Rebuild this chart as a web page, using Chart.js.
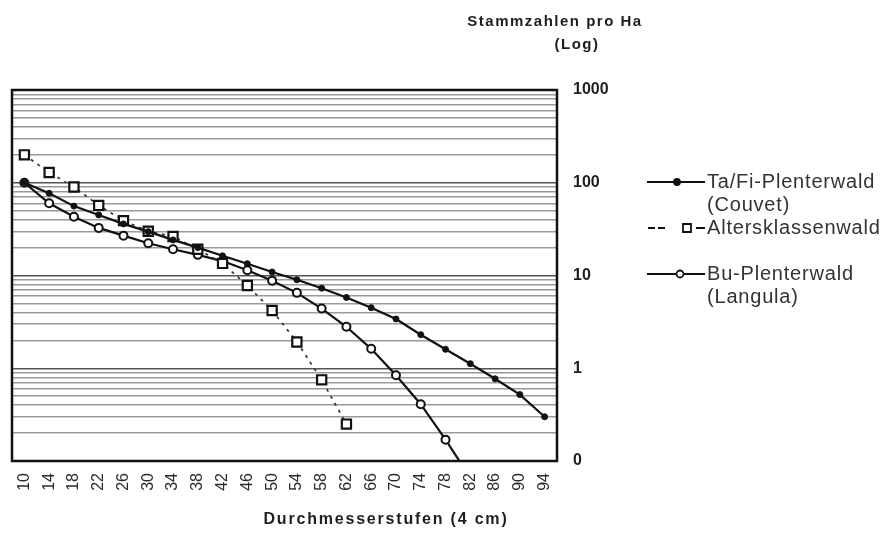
<!DOCTYPE html>
<html>
<head>
<meta charset="utf-8">
<script src="https://cdn.jsdelivr.net/npm/chart.js@4.4.0/dist/chart.umd.min.js"></script>
<style>
  html, body { margin: 0; padding: 0; background: #fff; }
  canvas { display: block; }
</style>
</head>
<body>
<canvas id="chart" width="887" height="538"></canvas>
<script>
// Durchmesserstufen (4 cm)
const categories = ['10', '14', '18', '22', '26', '30', '34', '38', '42', '46', '50',
  '54', '58', '62', '66', '70', '74', '78', '82', '86', '90', '94'];

// Stammzahlen pro Ha
const taFiValues = [100, 77, 56, 45, 36, 29.7, 24.2, 20, 16.3, 13.4, 10.9,
  9.0, 7.3, 5.8, 4.5, 3.4, 2.3, 1.6, 1.12, 0.77, 0.52, 0.30];
const altersValues = [200, 129, 90, 57, 39, 30, 26.3, 19.2, 13.5, 7.8, 4.2,
  1.92, 0.75, 0.25, null, null, null, null, null, null, null, null];
const buValues = [100, 60, 43, 32.6, 26.9, 22.3, 19.2, 16.7, 14.3, 11.4, 8.8,
  6.5, 4.4, 2.8, 1.62, 0.84, 0.41, 0.17, 0.066, null, null, null];

// y axis: log, gridline at every 1..9 of each decade, labels only on decades
const yDecades = [0.1, 1, 10, 100];
const yMultipliers = [1, 2, 3, 4, 5, 6, 7, 8, 9];
const yLabelValues = [0.1, 1, 10, 100, 1000];
const yLabelTexts = ['0', '1', '10', '100', '1000'];

const yTickValues = [];
yDecades.forEach(d => yMultipliers.forEach(m => yTickValues.push(Number((d * m).toPrecision(3)))));
yTickValues.push(1000);

const FONT = '"Liberation Sans", Arial, sans-serif';

function yLabel(v) {
  const i = yLabelValues.findIndex(x => Math.abs(x - v) < 1e-9);
  return i >= 0 ? yLabelTexts[i] : '';
}

const legendRows = [
  { lines: ['Ta/Fi-Plenterwald', '(Couvet)'], y: 182, marker: 'dot', mx: 677, dash: false },
  { lines: ['Altersklassenwald'], y: 228, marker: 'square', mx: 687, dash: true },
  { lines: ['Bu-Plenterwald', '(Langula)'], y: 274, marker: 'ring', mx: 680, dash: false },
];

function drawMarker(ctx, type, x, y) {
  ctx.save();
  ctx.strokeStyle = '#111';
  ctx.fillStyle = type === 'dot' ? '#111' : '#fff';
  ctx.lineWidth = 1.8;
  ctx.setLineDash([]);
  ctx.beginPath();
  if (type === 'square') {
    ctx.rect(x - 4, y - 4, 8, 8);
  } else {
    ctx.arc(x, y, type === 'dot' ? 3 : 3.5, 0, Math.PI * 2);
  }
  ctx.fill();
  ctx.stroke();
  ctx.restore();
}

const decorations = {
  id: 'decorations',
  afterDraw(chart) {
    const { ctx, chartArea: a } = chart;
    ctx.save();
    // frame round the plot
    ctx.strokeStyle = '#111';
    ctx.lineWidth = 2.5;
    ctx.strokeRect(a.left, a.top, a.right - a.left, a.bottom - a.top);

    // axis titles
    ctx.fillStyle = '#1e1e1e';
    ctx.textBaseline = 'middle';
    ctx.textAlign = 'center';
    ctx.font = 'bold 15px ' + FONT;
    ctx.letterSpacing = '1.5px';
    ctx.fillText('Stammzahlen pro Ha', 555, 22);
    ctx.fillText('(Log)', 577, 45);
    ctx.font = 'bold 16px ' + FONT;
    ctx.letterSpacing = '1.8px';
    ctx.fillText('Durchmesserstufen (4 cm)', 386, 520);

    // legend
    ctx.letterSpacing = '0.8px';
    ctx.font = '20px ' + FONT;
    ctx.textAlign = 'left';
    legendRows.forEach(r => {
      ctx.strokeStyle = '#111';
      ctx.lineWidth = 2;
      ctx.beginPath();
      if (r.dash) {
        ctx.moveTo(648, r.y); ctx.lineTo(655, r.y);
        ctx.moveTo(658, r.y); ctx.lineTo(665, r.y);
        ctx.moveTo(696, r.y); ctx.lineTo(705, r.y);
      } else {
        ctx.moveTo(647, r.y); ctx.lineTo(705, r.y);
      }
      ctx.stroke();
      drawMarker(ctx, r.marker, r.mx, r.y);
      ctx.fillStyle = '#333';
      r.lines.forEach((t, i) => ctx.fillText(t, 707, r.y + i * 23));
    });
    ctx.restore();
  }
};

new Chart(document.getElementById('chart'), {
  type: 'line',
  data: {
    labels: categories,
    datasets: [
      {
        label: 'Ta/Fi-Plenterwald (Couvet)', data: taFiValues,
        borderColor: '#111', borderWidth: 2.2, tension: 0,
        pointStyle: 'circle', pointRadius: 3, pointBackgroundColor: '#111', pointBorderColor: '#111', pointBorderWidth: 1,
        clip: 0,
      },
      {
        label: 'Altersklassenwald', data: altersValues,
        borderColor: '#333', borderWidth: 1.7, borderDash: [3, 5], tension: 0, spanGaps: false,
        pointStyle: 'rect', pointRadius: 6.5, pointBackgroundColor: '#fff', pointBorderColor: '#111', pointBorderWidth: 2.2,
        clip: 0,
      },
      {
        label: 'Bu-Plenterwald (Langula)', data: buValues,
        borderColor: '#111', borderWidth: 2.2, tension: 0,
        pointStyle: 'circle', pointRadius: 4, pointBackgroundColor: '#fff', pointBorderColor: '#111', pointBorderWidth: 2,
        clip: 0,
      },
    ],
  },
  options: {
    responsive: false,
    animation: false,
    layout: { padding: { left: 12, top: 90, right: 0, bottom: 0 } },
    plugins: { legend: { display: false }, tooltip: { enabled: false }, title: { display: false } },
    scales: {
      x: {
        offset: true,
        grid: { display: false, drawTicks: false },
        border: { display: false },
        ticks: {
          autoSkip: false, maxRotation: 90, minRotation: 90, padding: 12,
          color: '#2a2a2a', font: { family: FONT, size: 16 },
        },
        afterFit: s => { s.height = 77; },
      },
      y: {
        type: 'logarithmic',
        position: 'right',
        min: 0.1,
        max: 1000,
        border: { display: false },
        grid: {
          drawTicks: false,
          lineWidth: 1.4,
          color: c => (yLabelValues.some(v => Math.abs(v - c.tick.value) < 1e-9) ? '#555' : '#9a9a9a'),
        },
        afterBuildTicks: s => { s.ticks = yTickValues.map(v => ({ value: v })); },
        ticks: {
          autoSkip: false, padding: 16,
          color: '#1e1e1e', font: { family: FONT, size: 16, weight: 'bold' },
          callback: v => yLabel(v),
        },
        afterFit: s => { s.width = 330; },
      },
    },
  },
  plugins: [decorations],
});
</script>
</body>
</html>
